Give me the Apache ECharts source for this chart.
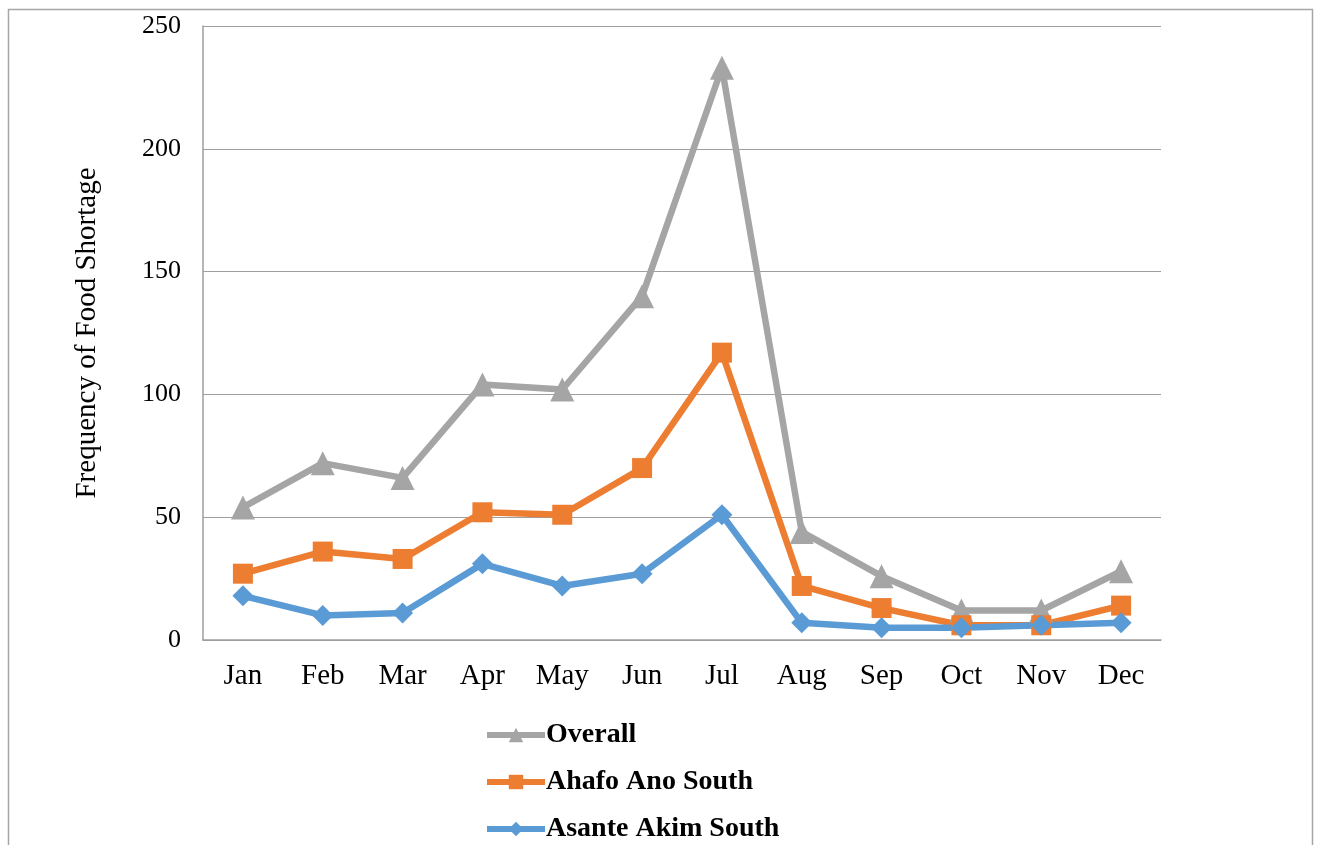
<!DOCTYPE html>
<html><head><meta charset="utf-8">
<script src="https://cdn.jsdelivr.net/npm/echarts@6/dist/echarts.min.js"></script>
<style>html,body{margin:0;padding:0;background:#fff}#c{width:1321px;height:845px}</style>
</head><body><div id="c"></div>
<script>
const months = ['Jan','Feb','Mar','Apr','May','Jun','Jul','Aug','Sep','Oct','Nov','Dec'];
const overall = [54,72,66,104,102,140,233,44,26,12,12,28];
const ahafoAnoSouth = [27,36,33,52,51,70,117,22,13,6,6,14];
const asanteAkimSouth = [18,10,11,31,22,27,51,7,5,5,6,7];
const yTicks = {min:0, max:250, interval:50};

const chart = echarts.init(document.getElementById('c'));
const font = '"Liberation Serif","Times New Roman",serif';
function mk(name, data, color, symbol, size){
  return {name, type:'line', data, symbol, symbolSize:size, showSymbol:true,
    lineStyle:{color, width:6.5}, itemStyle:{color}, emphasis:{disabled:true}, z: 2};
}
chart.setOption({
  animation:false,
  textStyle:{fontFamily:font},
  graphic:[{type:'rect', shape:{x:8.5,y:9.5,width:1304,height:900}, style:{fill:null, stroke:'#a6a6a6', lineWidth:1.5}, silent:true}],
  grid:{left:203, top:26, right:160, bottom:205, containLabel:false},
  xAxis:{type:'category', data:months, boundaryGap:true,
    axisLine:{show:true, lineStyle:{color:'#9e9e9e', width:1.5}},
    axisTick:{show:false},
    axisLabel:{fontFamily:font, fontSize:29, color:'#000', margin:22}},
  yAxis:{type:'value', min:yTicks.min, max:yTicks.max, interval:yTicks.interval,
    name:'Frequency of Food Shortage', nameLocation:'middle', nameGap:101, nameRotate:90,
    nameTextStyle:{fontFamily:font, fontSize:29, color:'#000'},
    axisLine:{show:true, lineStyle:{color:'#9e9e9e', width:1.5}},
    axisTick:{show:false},
    splitLine:{lineStyle:{color:'#9e9e9e', width:1.2}},
    axisLabel:{fontFamily:font, fontSize:26, color:'#000', margin:22, padding:[4,0,0,0]}},
  legend:{orient:'vertical', left:479, top:716, height:300, itemWidth:58, itemHeight:18, itemGap:19,
    lineStyle:{width:6},
    textStyle:{fontFamily:font, fontSize:28, fontWeight:'bold', color:'#000', padding:[0,0,0,-4]},
    data:['Overall','Ahafo Ano South','Asante Akim South']},
  series:[
    mk('Overall', overall, '#a5a5a5', 'triangle', 24),
    mk('Ahafo Ano South', ahafoAnoSouth, '#ed7d31', 'rect', 20),
    mk('Asante Akim South', asanteAkimSouth, '#5b9bd5', 'diamond', 21)
  ]
});
</script></body></html>
